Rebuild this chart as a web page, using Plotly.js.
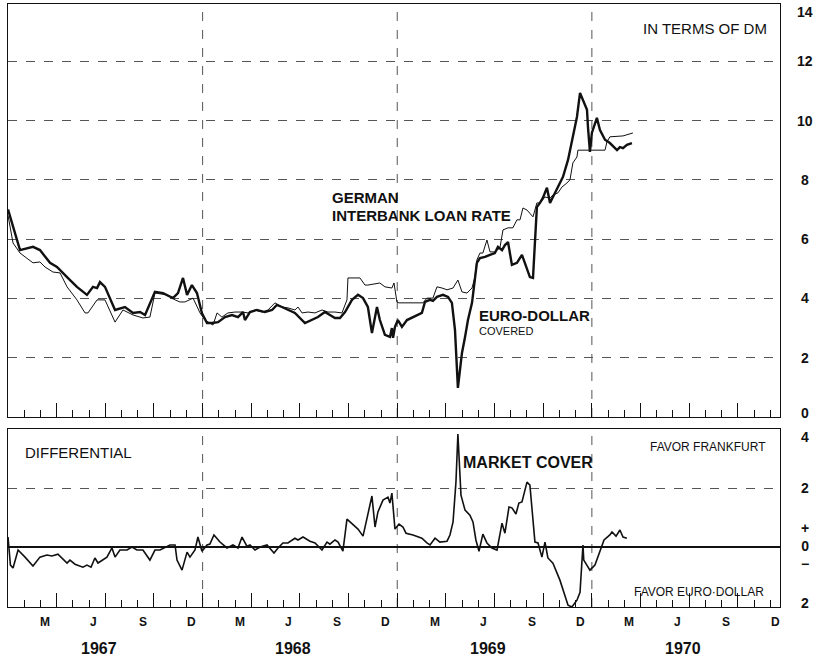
<!DOCTYPE html>
<html>
<head>
<meta charset="utf-8">
<script src="https://cdn.plot.ly/plotly-3.0.1.min.js"></script>
<style>html,body{margin:0;padding:0;background:#fff;}#chart{width:826px;height:658px;}</style>
</head>
<body>
<div id="chart"></div>
<script>
// x values: months since January 1967
const germanMonths = [0, 0.31, 0.74, 1.54, 1.97, 2.28, 2.77, 3.21, 3.64, 4.25, 4.75, 4.93, 5.49, 5.98, 6.6, 7.09, 7.71, 8.32, 8.75, 9.06, 9.8, 10.3, 10.6, 10.91, 11.41, 11.84, 12.15, 12.64, 12.89, 13.19, 13.56, 14.0, 14.43, 14.8, 15.23, 15.66, 16.03, 16.46, 16.89, 17.26, 17.69, 17.88, 18.13, 18.5, 18.93, 19.36, 19.73, 20.16, 20.59, 20.9, 20.96, 21.7, 22.01, 22.19, 22.93, 23.24, 23.67, 23.8, 23.98, 24.1, 25.59, 25.83, 26.2, 26.45, 26.76, 27.07, 27.44, 27.74, 27.99, 28.3, 28.61, 28.79, 28.91, 29.1, 29.28, 29.53, 29.72, 30.02, 30.33, 30.52, 30.83, 31.13, 31.38, 31.57, 31.75, 32.0, 32.37, 32.61, 32.8, 33.11, 33.42, 33.6, 33.91, 34.16, 34.46, 34.65, 34.83, 35.08, 35.14, 36.81, 36.93, 37.11, 37.92, 38.53];
const germanRate = [6.8, 5.87, 5.53, 5.2, 5.23, 5.06, 4.89, 4.86, 4.39, 3.95, 3.51, 3.51, 3.95, 3.95, 3.2, 3.61, 3.44, 3.34, 3.37, 4.18, 4.12, 3.95, 3.88, 3.88, 4.01, 3.51, 3.27, 3.1, 3.51, 3.37, 3.51, 3.54, 3.54, 3.51, 3.61, 3.54, 3.61, 3.85, 3.71, 3.68, 3.61, 3.71, 3.51, 3.54, 3.51, 3.61, 3.54, 3.54, 3.51, 3.95, 4.69, 4.69, 4.45, 4.45, 4.52, 4.39, 4.35, 4.52, 3.88, 3.85, 3.85, 4.01, 4.01, 4.39, 4.35, 4.29, 4.35, 4.62, 4.22, 4.18, 4.35, 4.72, 5.3, 5.53, 5.53, 5.97, 5.57, 5.57, 5.7, 6.31, 6.38, 6.38, 6.65, 6.65, 7.05, 6.98, 6.75, 7.22, 7.22, 7.42, 7.38, 7.49, 7.56, 7.76, 7.89, 8.0, 8.57, 8.77, 9.0, 9.0, 9.28, 9.45, 9.48, 9.58];

const euroMonths = [0, 0.43, 0.74, 1.54, 1.97, 2.59, 3.02, 3.64, 4.25, 4.87, 5.24, 5.49, 5.67, 5.98, 6.6, 7.21, 7.71, 8.14, 8.45, 9.06, 9.56, 10.17, 10.48, 10.79, 11.04, 11.34, 11.65, 11.96, 12.27, 12.58, 12.95, 13.38, 13.81, 14.18, 14.49, 14.61, 14.92, 15.35, 15.84, 16.28, 16.58, 16.89, 17.26, 17.69, 18.31, 18.74, 19.11, 19.54, 19.85, 20.16, 20.47, 20.78, 21.21, 21.58, 21.89, 22.19, 22.44, 22.75, 22.93, 23.24, 23.55, 23.67, 23.74, 23.86, 24.04, 24.29, 24.6, 24.97, 25.52, 25.71, 26.02, 26.2, 26.45, 26.82, 27.13, 27.37, 27.56, 27.74, 27.99, 28.18, 28.36, 28.61, 28.79, 28.91, 29.1, 29.41, 29.72, 30.02, 30.21, 30.46, 30.64, 30.83, 31.07, 31.38, 31.69, 32.0, 32.18, 32.37, 32.61, 32.8, 32.98, 33.23, 33.42, 33.6, 33.91, 34.22, 34.53, 34.83, 35.08, 35.27, 35.45, 35.7, 35.76, 35.88, 36.0, 36.07, 36.31, 36.5, 36.81, 37.11, 37.55, 37.73, 37.92, 38.16, 38.47];
const euroCovered = [7.0, 6.2, 5.63, 5.74, 5.63, 5.2, 5.06, 4.72, 4.39, 4.12, 4.39, 4.35, 4.55, 4.39, 3.61, 3.71, 3.51, 3.54, 3.44, 4.22, 4.18, 4.01, 4.18, 4.69, 4.12, 4.45, 4.18, 3.5, 3.17, 3.17, 3.2, 3.37, 3.44, 3.37, 3.54, 3.27, 3.54, 3.61, 3.54, 3.61, 3.78, 3.71, 3.61, 3.51, 3.17, 3.27, 3.37, 3.54, 3.44, 3.34, 3.34, 3.54, 3.95, 4.12, 4.01, 3.71, 2.83, 3.71, 3.27, 2.77, 2.7, 3.0, 2.67, 3.04, 3.27, 3.04, 3.27, 3.37, 3.51, 3.88, 3.95, 3.92, 4.05, 4.12, 4.05, 3.85, 2.94, 0.98, 2.16, 2.7, 3.27, 3.85, 4.62, 5.2, 5.36, 5.4, 5.47, 5.53, 5.74, 5.63, 5.8, 5.9, 5.13, 5.2, 5.47, 4.96, 4.72, 4.69, 7.08, 7.22, 7.39, 7.73, 7.22, 7.42, 7.76, 8.1, 8.67, 9.45, 10.12, 10.93, 10.7, 10.36, 9.78, 8.94, 9.58, 9.68, 10.09, 9.68, 9.35, 9.24, 9.0, 9.1, 9.07, 9.18, 9.24];

const diffMonths = [0, 0.15, 0.31, 0.62, 1.05, 1.54, 1.97, 2.4, 2.71, 3.08, 3.64, 3.82, 4.13, 4.62, 4.87, 5.12, 5.36, 5.55, 6.1, 6.41, 6.6, 6.9, 7.34, 7.64, 7.95, 8.32, 8.75, 9.06, 9.37, 9.99, 10.3, 10.42, 10.73, 11.04, 11.22, 11.53, 11.71, 11.96, 12.27, 12.45, 12.7, 13.07, 13.5, 13.87, 14.18, 14.43, 14.73, 14.92, 15.23, 15.54, 15.97, 16.4, 16.65, 16.95, 17.26, 17.69, 17.88, 18.19, 18.62, 18.93, 19.36, 19.67, 19.85, 20.16, 20.35, 20.65, 20.9, 21.21, 21.58, 21.89, 22.44, 22.63, 22.81, 23.12, 23.43, 23.55, 23.67, 23.86, 24.11, 24.35, 24.54, 24.97, 25.52, 25.83, 26.02, 26.33, 26.63, 27.07, 27.25, 27.44, 27.62, 27.74, 27.93, 28.18, 28.48, 28.67, 28.85, 29.04, 29.28, 29.53, 29.84, 30.15, 30.46, 30.64, 30.89, 31.07, 31.32, 31.5, 31.69, 32.0, 32.18, 32.49, 32.68, 32.92, 33.11, 33.29, 33.6, 34.03, 34.34, 34.53, 34.77, 35.08, 35.27, 35.45, 35.5, 35.88, 36.19, 36.5, 36.75, 37.11, 37.24, 37.49, 37.73, 37.92, 38.16];
const marketCover = [0.34, -0.61, -0.71, -0.1, -0.34, -0.64, -0.34, -0.27, -0.3, -0.24, -0.54, -0.44, -0.58, -0.68, -0.61, -0.68, -0.37, -0.54, -0.34, -0.03, -0.34, -0.1, -0.1, 0.0, -0.1, -0.1, -0.44, -0.1, -0.1, 0.07, 0.07, -0.44, -0.78, -0.17, -0.34, -0.1, 0.34, -0.14, 0.07, 0.1, 0.41, 0.17, -0.03, 0.07, -0.03, 0.34, 0.03, 0.07, -0.1, 0.0, 0.07, -0.2, -0.03, 0.14, 0.14, 0.3, 0.24, 0.34, 0.2, 0.14, -0.1, 0.17, 0.1, 0.24, 0.17, -0.14, 0.95, 0.78, 0.61, 0.37, 1.73, 0.68, 1.19, 1.59, 1.69, 1.49, 1.83, 0.61, 0.78, 0.68, 0.47, 0.41, 0.3, 0.14, 0.07, 0.3, 0.17, 0.2, 0.41, 0.85, 2.2, 3.83, 1.76, 1.25, 1.08, 0.85, 0.24, -0.14, 0.44, 0.14, -0.03, -0.1, 0.81, 0.47, 1.36, 1.33, 1.12, 1.49, 1.53, 2.2, 2.1, 0.17, 0.14, -0.34, 0.17, -0.37, -0.55, -1.12, -1.69, -1.97, -2.03, -1.8, -1.53, 0.07, -0.44, -0.78, -0.61, -0.1, 0.24, 0.41, 0.51, 0.37, 0.58, 0.34, 0.3];

const yearBoundaries = [12, 24, 36];
const monthLabels = ['M', 'J', 'S', 'D'];
const monthLabelOffsets = [2.3, 5.3, 8.3, 11.3];
const years = ['1967', '1968', '1969', '1970'];
const topTickLabels = ['14', '12', '10', '8', '6', '4', '2', '0'];
const topTickLabelPos = [13.66, 12, 10, 8, 6, 4, 2, 0.13];
const bottomTickLabels = ['4', '2', '+<br>0<br>\u2212', '2'];
const bottomTickLabelPos = [3.72, 2, 0.02, -1.9];

const FONT = 'Liberation Sans, Arial, sans-serif';
const INK = '#111';

const traces = [
  {x: germanMonths, y: germanRate, xaxis: 'x', yaxis: 'y', mode: 'lines', line: {color: INK, width: 1}, hoverinfo: 'skip'},
  {x: euroMonths, y: euroCovered, xaxis: 'x', yaxis: 'y', mode: 'lines', line: {color: INK, width: 2.4}, hoverinfo: 'skip'},
  {x: diffMonths, y: marketCover, xaxis: 'x2', yaxis: 'y2', mode: 'lines', line: {color: INK, width: 1.6}, hoverinfo: 'skip'}
];

const xCommon = {
  range: [0, 47.6], tick0: 0, dtick: 3, ticks: 'inside', ticklen: 14, tickcolor: INK, tickwidth: 1,
  showticklabels: false, showgrid: false, zeroline: false, showline: true, mirror: true, linecolor: INK, linewidth: 1.2,
  minor: {dtick: 1, ticks: 'inside', ticklen: 7, tickcolor: INK, tickwidth: 1, showgrid: false}
};

const annotations = [];
function addText(text, x, y, xref, yref, size, bold, xanchor) {
  annotations.push({text: text, x: x, y: y, xref: xref, yref: yref, showarrow: false,
    xanchor: xanchor || 'left', yanchor: 'middle',
    font: {family: FONT, size: size, color: INK, weight: bold ? 'bold' : 'normal'}});
}
addText('IN TERMS OF DM', 39.0, 13.09, 'x', 'y', 15, false);
addText('GERMAN', 19.85, 7.39, 'x', 'y', 15, true);
addText('INTERBANK LOAN RATE', 19.85, 6.78, 'x', 'y', 15, true);
addText('EURO-DOLLAR', 28.9, 3.44, 'x', 'y', 15, true);
addText('COVERED', 28.9, 2.9, 'x', 'y', 11, false);
addText('DIFFERENTIAL', 0.95, 3.19, 'x2', 'y2', 15, false);
addText('MARKET COVER', 27.95, 2.85, 'x2', 'y2', 16, true);
addText('FAVOR FRANKFURT', 46.85, 3.39, 'x2', 'y2', 12, false, 'right');
addText('FAVOR EURO\u00B7DOLLAR', 46.75, -1.53, 'x2', 'y2', 12, false, 'right');
topTickLabels.forEach((t, i) => addText(t, 1.0324, topTickLabelPos[i], 'paper', 'y', 14, true, 'center'));
bottomTickLabels.forEach((t, i) => addText(t, 1.0324, bottomTickLabelPos[i], 'paper', 'y2', 14, true, 'center'));
years.forEach((yr, k) => {
  monthLabels.forEach((m, j) => addText(m, 12 * k + monthLabelOffsets[j], -0.025, 'x2', 'paper', 12, true, 'center'));
  addText(yr, 12 * k + 5.6, -0.068, 'x2', 'paper', 16, true, 'center');
});

const shapes = [];
yearBoundaries.forEach(b => {
  [['x', 0.3151, 1], ['x2', 0, 0.2952]].forEach(p => {
    shapes.push({type: 'line', xref: p[0], yref: 'paper', x0: b, x1: b, y0: p[1], y1: p[2],
      line: {color: '#555', width: 1, dash: 'dash'}, layer: 'below'});
  });
});

const layout = {
  width: 826, height: 658,
  margin: {l: 8, r: 46, t: 4, b: 51},
  paper_bgcolor: '#fff', plot_bgcolor: '#fff',
  showlegend: false,
  xaxis: Object.assign({}, xCommon, {anchor: 'y', domain: [0, 1]}),
  xaxis2: Object.assign({}, xCommon, {anchor: 'y2', domain: [0, 1], matches: 'x'}),
  yaxis: {domain: [0.3151, 1], anchor: 'x', range: [0, 13.93], tickvals: [2, 4, 6, 8, 10, 12],
    showticklabels: false, ticks: '', showgrid: true, gridcolor: '#555', gridwidth: 1, griddash: 'dash',
    zeroline: false, showline: true, mirror: true, linecolor: INK, linewidth: 1.2},
  yaxis2: {domain: [0, 0.2952], anchor: 'x2', range: [-2.03, 4.0], tickvals: [2],
    showticklabels: false, ticks: '', showgrid: true, gridcolor: '#555', gridwidth: 1, griddash: 'dash',
    zeroline: true, zerolinecolor: INK, zerolinewidth: 1.4, showline: true, mirror: true, linecolor: INK, linewidth: 1.2},
  annotations: annotations,
  shapes: shapes
};

Plotly.newPlot('chart', traces, layout, {staticPlot: true, displayModeBar: false});
</script>
</body>
</html>
